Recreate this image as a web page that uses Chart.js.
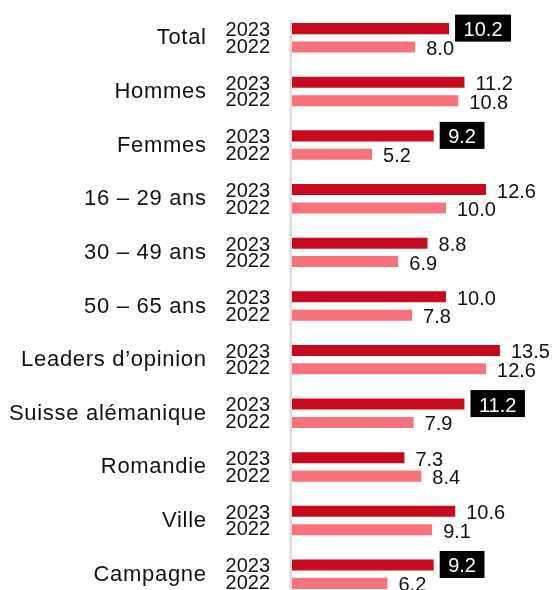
<!DOCTYPE html>
<html>
<head>
<meta charset="utf-8">
<script src="https://cdn.jsdelivr.net/npm/chart.js@4"></script>
<style>
  html, body { margin: 0; padding: 0; background: #fff; overflow: hidden; }
  #wrap { position: relative; width: 558px; height: 601px; }
</style>
</head>
<body>
<div id="wrap"><canvas id="chart"></canvas></div>
<script>
const categories = ['Total', 'Hommes', 'Femmes', '16 – 29 ans', '30 – 49 ans', '50 – 65 ans',
  'Leaders d’opinion', 'Suisse alémanique', 'Romandie', 'Ville', 'Campagne'];
const years = ['2023', '2022'];
const values2023 = [10.2, 11.2, 9.2, 12.6, 8.8, 10.0, 13.5, 11.2, 7.3, 10.6, 9.2];
const values2022 = [8.0, 10.8, 5.2, 10.0, 6.9, 7.8, 12.6, 7.9, 8.4, 9.1, 6.2];
// 2023 values shown in a black box
const highlight2023 = [true, false, true, false, false, false, false, true, false, false, true];

const FONT = "'Liberation Sans', Arial, sans-serif";

const labelsPlugin = {
  id: 'labels',
  afterDatasetsDraw(chart) {
    const ctx = chart.ctx;
    const area = chart.chartArea;
    const yScale = chart.scales.y;
    const meta23 = chart.getDatasetMeta(0);
    const meta22 = chart.getDatasetMeta(1);

    ctx.save();
    // axis line
    const firstTop = meta23.data[0].y - meta23.data[0].height / 2;
    ctx.strokeStyle = '#dcdcdc';
    ctx.lineWidth = 2.5;
    ctx.beginPath();
    ctx.moveTo(area.left - 1.3, firstTop - 3);
    ctx.lineTo(area.left - 1.3, chart.height);
    ctx.stroke();

    // category labels
    ctx.fillStyle = '#111';
    ctx.textAlign = 'right';
    ctx.textBaseline = 'alphabetic';
    ctx.font = '22px ' + FONT;
    ctx.letterSpacing = '0.7px';
    categories.forEach((c, i) => {
      const y = yScale.getPixelForValue(i);
      ctx.fillText(c, 206.7, y + 6.5);
    });
    ctx.letterSpacing = '0px';

    // year labels
    ctx.font = '20px ' + FONT;
    categories.forEach((c, i) => {
      ctx.fillText(years[0], 270, meta23.data[i].y + 7.4);
      ctx.fillText(years[1], 270, meta22.data[i].y + 5.6);
    });

    // value labels
    ctx.font = '20px ' + FONT;
    ctx.textAlign = 'left';
    const draw = (bar, v, boxed) => {
      const txt = v.toFixed(1);
      if (boxed) {
        const w = ctx.measureText(txt).width;
        const bx = bar.x + 6;
        ctx.fillStyle = '#000';
        ctx.fillRect(bx, bar.y - 14, w + 17, 27);
        ctx.fillStyle = '#fff';
        ctx.fillText(txt, bx + 8.5, bar.y + 7.5);
      } else {
        ctx.fillStyle = '#111';
        ctx.fillText(txt, bar.x + 11, bar.y + 8);
      }
    };
    values2023.forEach((v, i) => draw(meta23.data[i], v, highlight2023[i]));
    values2022.forEach((v, i) => draw(meta22.data[i], v, false));
    ctx.restore();
  }
};

new Chart(document.getElementById('chart'), {
  type: 'bar',
  data: {
    labels: categories,
    datasets: [{
      label: years[0],
      data: values2023,
      backgroundColor: '#c80a1e',
      barPercentage: 0.6,
      categoryPercentage: 0.686
    }, {
      label: years[1],
      data: values2022,
      backgroundColor: '#f8727b',
      barPercentage: 0.6,
      categoryPercentage: 0.686
    }]
  },
  options: {
    indexAxis: 'y',
    responsive: true,
    maintainAspectRatio: false,
    animation: false,
    layout: { padding: { left: 292, right: 19.6, top: 11, bottom: 0 } },
    plugins: {
      legend: { display: false },
      tooltip: { enabled: false }
    },
    scales: {
      x: { display: false, min: 0, max: 16 },
      y: { display: false }
    }
  },
  plugins: [labelsPlugin]
});
</script>
</body>
</html>
